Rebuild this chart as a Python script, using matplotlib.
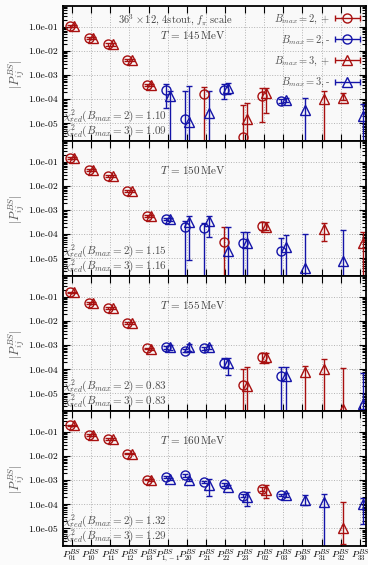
import numpy as np
import matplotlib.pyplot as plt
from matplotlib.ticker import LogLocator, NullFormatter
from matplotlib.container import ErrorbarContainer
from matplotlib.legend_handler import HandlerErrorbar

plt.rcParams['font.family'] = 'serif'
plt.rcParams['font.serif'] = ['cmr10', 'DejaVu Serif']
plt.rcParams['mathtext.fontset'] = 'cm'
plt.rcParams['axes.unicode_minus'] = False

nan = np.nan
labels = [r'$P^{BS}_{01}$', r'$P^{BS}_{10}$', r'$P^{BS}_{11}$', r'$P^{BS}_{12}$',
          r'$P^{BS}_{13}$', r'$P^{BS}_{1,-1}$', r'$P^{BS}_{20}$', r'$P^{BS}_{21}$',
          r'$P^{BS}_{22}$', r'$P^{BS}_{23}$', r'$P^{BS}_{02}$', r'$P^{BS}_{03}$',
          r'$P^{BS}_{30}$', r'$P^{BS}_{31}$', r'$P^{BS}_{32}$', r'$P^{BS}_{33}$']
temps = [145, 150, 155, 160]
chi2_b2 = ['1.10', '1.15', '0.83', '1.32']
chi2_b3 = ['1.09', '1.16', '0.83', '1.29']

# B_max = 2 (circles): value, lower bound, upper bound, sign ; lower 0 = off scale
b2_val = [
    [0.11, 0.034, 0.019, 0.0044, 3.9e-4, 2.5e-4, 1.5e-5, 1.6e-4, 2.5e-4, 2.6e-6, 1.4e-4, 8.3e-5, nan, nan, nan, nan],
    [0.145, 0.048, 0.027, 0.0063, 5.9e-4, 4.3e-4, 1.95e-4, 1.8e-4, 4.6e-5, 4.3e-5, 2.2e-4, 2.1e-5, nan, nan, nan, nan],
    [0.16, 0.057, 0.036, 0.0085, 7.4e-4, 8.1e-4, 5.9e-4, 7.4e-4, 1.9e-4, 2.2e-5, 3.2e-4, 5.4e-5, nan, nan, nan, nan],
    [0.19, 0.078, 0.051, 0.0128, 1.07e-3, 1.38e-3, 1.6e-3, 8.5e-4, 6.7e-4, 2.3e-4, 4.2e-4, 2.5e-4, nan, nan, nan, nan],
]
b2_lo = [
    [0.10, 0.031, 0.017, 0.0040, 3.5e-4, 4.5e-5, 0, 0, 9.8e-5, 0, 1.1e-5, 7.0e-5, nan, nan, nan, nan],
    [0.135, 0.044, 0.025, 0.0058, 5.4e-4, 3.8e-4, 0, 0, 0, 0, 1.5e-4, 0, nan, nan, nan, nan],
    [0.15, 0.052, 0.033, 0.0078, 6.8e-4, 6.8e-4, 5.0e-4, 6.5e-4, 1.3e-4, 0, 1.9e-4, 0, nan, nan, nan, nan],
    [0.18, 0.072, 0.047, 0.0118, 9.8e-4, 1.25e-3, 1.4e-3, 7.5e-4, 6.0e-4, 2.0e-4, 3.5e-4, 2.2e-4, nan, nan, nan, nan],
]
b2_hi = [
    [0.12, 0.037, 0.021, 0.0048, 4.3e-4, 4.1e-4, 2.1e-4, 3.2e-4, 4.4e-4, 5.5e-5, 3.0e-4, 1.0e-4, nan, nan, nan, nan],
    [0.155, 0.052, 0.029, 0.0068, 6.4e-4, 4.8e-4, 3.5e-4, 3.0e-4, 1.95e-4, 1.2e-4, 3.2e-4, 6.9e-5, nan, nan, nan, nan],
    [0.17, 0.062, 0.039, 0.0092, 8.0e-4, 9.6e-4, 7.0e-4, 8.5e-4, 2.9e-4, 1.0e-4, 4.6e-4, 1.2e-4, nan, nan, nan, nan],
    [0.20, 0.084, 0.055, 0.0138, 1.16e-3, 1.5e-3, 1.8e-3, 9.5e-4, 7.5e-4, 2.6e-4, 5.2e-4, 2.8e-4, nan, nan, nan, nan],
]
b2_sign = [
    '+++++--+-++-',
    '+++++---+-+-',
    '+++++----++-',
    '+++++-----+-',
]

# B_max = 3 (triangles)
b3_val = [
    [0.11, 0.034, 0.019, 0.0044, 3.8e-4, 1.35e-4, 1.1e-5, 2.8e-5, 3.0e-4, 1.5e-5, 1.9e-4, 9.1e-5, 3.5e-5, 1.05e-4, 1.15e-4, 2.0e-5],
    [0.145, 0.048, 0.027, 0.0063, 5.8e-4, 4.2e-4, 3.2e-4, 3.4e-4, 2.0e-5, 4.3e-5, 2.1e-4, 3.1e-5, 4.0e-6, 1.66e-4, 7.6e-6, 4.3e-5],
    [0.16, 0.057, 0.036, 0.0085, 7.2e-4, 8.1e-4, 8.1e-4, 8.3e-4, 1.9e-4, 2.0e-5, 3.4e-4, 5.4e-5, 7.6e-5, 1.04e-4, 2.2e-6, 3.6e-6],
    [0.19, 0.078, 0.051, 0.0128, 1.05e-3, 1.17e-3, 1.02e-3, 6.2e-4, 5.4e-4, 2.0e-4, 3.9e-4, 2.5e-4, 1.5e-4, 1.2e-4, 1.0e-5, 1.0e-4],
]
b3_lo = [
    [0.10, 0.031, 0.017, 0.0040, 3.4e-4, 0, 0, 0, 1.6e-4, 0, 2.75e-5, 7.5e-5, 0, 0, 0.9e-4, 0],
    [0.135, 0.044, 0.025, 0.0058, 5.3e-4, 3.7e-4, 8.7e-6, 7.6e-5, 0, 0, 1.5e-4, 0, 0, 5.4e-5, 0, 0],
    [0.15, 0.052, 0.033, 0.0078, 6.6e-4, 6.5e-4, 5.6e-4, 7.0e-4, 5.9e-5, 0, 1.9e-4, 0, 0, 0, 0, 0],
    [0.18, 0.072, 0.047, 0.0118, 9.6e-4, 1.05e-3, 0.9e-3, 2.3e-4, 4.6e-4, 8.7e-5, 1.9e-4, 2.1e-4, 9.5e-5, 0, 2.2e-6, 1.5e-5],
]
b3_hi = [
    [0.12, 0.037, 0.021, 0.0048, 4.2e-4, 2.15e-4, 3.5e-4, 2.1e-4, 4.8e-4, 7.1e-5, 3.0e-4, 1.1e-4, 1.15e-4, 2.15e-4, 1.75e-4, 6.6e-5],
    [0.155, 0.052, 0.029, 0.0068, 6.3e-4, 4.7e-4, 5.9e-4, 5.9e-4, 1.95e-4, 1.2e-4, 3.2e-4, 8.9e-5, 1.0e-4, 2.9e-4, 1.5e-4, 1.2e-4],
    [0.17, 0.062, 0.039, 0.0092, 7.8e-4, 9.8e-4, 1.1e-3, 1.0e-3, 2.9e-4, 1.2e-4, 4.6e-4, 1.2e-4, 1.4e-4, 2.6e-4, 1.1e-4, 6.9e-5],
    [0.20, 0.084, 0.055, 0.0138, 1.14e-3, 1.3e-3, 1.15e-3, 1.15e-3, 6.3e-4, 3.2e-4, 6.2e-4, 2.9e-4, 2.45e-4, 2.6e-4, 1.26e-4, 1.9e-4],
]
b3_sign = [
    '+++++----++--++-',
    '+++++-----+--+-+',
    '+++++----++-+++-',
    '+++++-----+---+-',
]

red = '#a81010'
blue = '#1414a8'
colors = {'+': red, '-': blue}

fig, axes = plt.subplots(4, 1, sharex=True, figsize=(3.68, 5.65), dpi=100)
fig.patch.set_facecolor('#fbfbfb')
plt.subplots_adjust(left=0.170, right=0.994, top=0.989, bottom=0.033, hspace=0)

x = np.arange(len(labels))


def draw(ax, xs, val, lo, hi, sign, marker, ms):
    for i in range(len(sign)):
        v = val[i]
        if np.isnan(v):
            continue
        el = v - lo[i] if lo[i] > 0 else v * 0.999999999
        eh = hi[i] - v
        ax.errorbar([xs[i]], [v], yerr=[[el], [eh]], fmt=marker, ms=ms,
                    mfc='none', mec=colors[sign[i]], mew=1.0,
                    ecolor=colors[sign[i]], elinewidth=1.0, capsize=2.5,
                    capthick=1.0)


for k, ax in enumerate(axes):
    ax.set_yscale('log')
    ax.set_facecolor('#f9f9f9')
    draw(ax, x - 0.1, b2_val[k], b2_lo[k], b2_hi[k], b2_sign[k], 'o', 6.5)
    draw(ax, x + 0.13, b3_val[k], b3_lo[k], b3_hi[k], b3_sign[k], '^', 7)
    ax.set_ylim(1.8e-6, 0.73)
    ax.set_xlim(-0.47, 15.3)
    ax.set_yticks([1e-1, 1e-2, 1e-3, 1e-4, 1e-5])
    ax.set_yticklabels(['1.0e-01', '1.0e-02', '1.0e-03', '1.0e-04', '1.0e-05'], fontsize=7)
    ax.yaxis.set_minor_locator(LogLocator(base=10, subs=np.arange(2, 10), numticks=20))
    ax.yaxis.set_minor_formatter(NullFormatter())
    ax.set_xticks(x)
    ax.tick_params(which='both', direction='in', top=True, right=True, width=0.8)
    ax.tick_params(which='major', length=5)
    ax.tick_params(which='minor', length=3)
    ax.grid(True, which='major', ls=':', color='0.7', lw=0.7)
    for s in ax.spines.values():
        s.set_linewidth(1.3)
    ax.set_ylabel(r'$|P^{BS}_{ij}|$', fontsize=9, color='0.35', labelpad=1)
    ax.text(0.43, 0.79, r'$T\,=\,%d\,$MeV' % temps[k], transform=ax.transAxes,
            ha='center', va='center', fontsize=8, color='0.25')
    ax.text(0.0, 0.19, r'$\chi^2_{red}(B_{max}=2)=%s$' % chi2_b2[k], transform=ax.transAxes,
            ha='left', va='center', fontsize=8, color='0.3')
    ax.text(0.0, 0.08, r'$\chi^2_{red}(B_{max}=3)=%s$' % chi2_b3[k], transform=ax.transAxes,
            ha='left', va='center', fontsize=8, color='0.3')

axes[0].text(0.372, 0.90, r'$36^3\times 12$, 4stout, $f_\pi$ scale', transform=axes[0].transAxes,
             ha='center', va='center', fontsize=7.5, color='0.25')

# legend with dummy handles
h = []
for lab, col, mk, ms in [(r'$B_{max}=2,+$', red, 'o', 6.5), (r'$B_{max}=2,$-', blue, 'o', 6.5),
                         (r'$B_{max}=3,+$', red, '^', 7), (r'$B_{max}=3,$-', blue, '^', 7)]:
    h.append(axes[0].errorbar([nan], [nan], xerr=[1], fmt=mk, ms=ms, mfc='none', mec=col,
                              mew=1.0, ecolor=col, elinewidth=1.0, capsize=2.5, label=lab))
axes[0].legend(handles=h, loc='upper right', markerfirst=False, frameon=False, fontsize=7.5,
               handlelength=2.4, labelspacing=0.75, borderaxespad=0.2, handletextpad=0.4,
               labelcolor='0.3',
               handler_map={ErrorbarContainer: HandlerErrorbar(xerr_size=1.2)})

axes[-1].set_xticklabels(labels, fontsize=7)
axes[-1].tick_params(axis='x', pad=1)

fig.savefig('out.png', dpi=100, facecolor=fig.get_facecolor())
